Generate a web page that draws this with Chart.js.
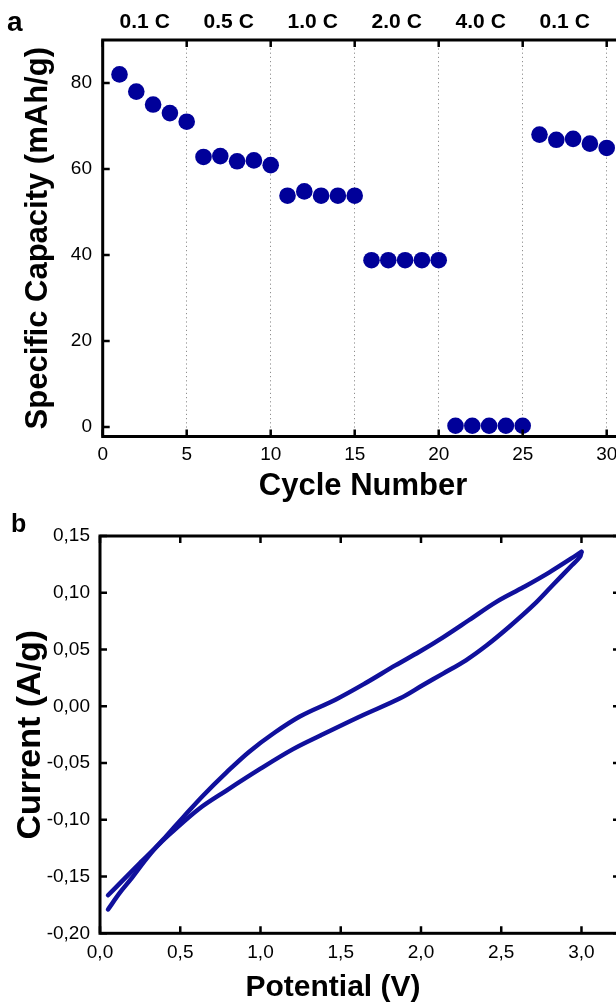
<!DOCTYPE html>
<html>
<head>
<meta charset="utf-8">
<script src="https://cdn.jsdelivr.net/npm/chart.js@4.4.0/dist/chart.umd.min.js"></script>
<style>
  html, body { margin: 0; padding: 0; background: #fff; overflow: hidden; width: 616px; height: 1006px; }
  canvas { display: block; position: absolute; left: 0; }
  #cap { top: 0; }
  #cv { top: 505px; }
</style>
</head>
<body>
<canvas id="cap" width="640" height="505"></canvas>
<canvas id="cv" width="640" height="501"></canvas>
<script>
// panel a: rate capability
const cycles = [1, 2, 3, 4, 5, 6, 7, 8, 9, 10, 11, 12, 13, 14, 15, 16, 17, 18, 19, 20, 21, 22, 23, 24, 25, 26, 27, 28, 29, 30];
const capacity = [82, 78, 75, 73, 71, 62.8, 63, 61.8, 62, 60.9, 53.8, 54.8, 53.8, 53.8, 53.8,
  38.8, 38.8, 38.8, 38.8, 38.8, 0.3, 0.3, 0.3, 0.3, 0.3, 68, 66.8, 67, 65.9, 64.9];
const rateLabels = ['0.1 C', '0.5 C', '1.0 C', '2.0 C', '4.0 C', '0.1 C'];

// panel b: cyclic voltammogram, forward and reverse sweep
const potForward = [0.05, 0.125, 0.2, 0.28, 0.35, 0.415, 0.52, 0.64, 0.79, 0.93, 1.08, 1.245, 1.47, 1.65, 1.84, 1.99, 2.14, 2.30, 2.47, 2.64, 2.80, 3.0];
const curForward = [-0.179, -0.164, -0.151, -0.136, -0.124, -0.114, -0.0975, -0.079, -0.058, -0.040, -0.024, -0.009, 0.006, 0.020, 0.036, 0.048, 0.061, 0.076, 0.092, 0.105, 0.118, 0.136];
const potReverse = [3.0, 2.99, 2.93, 2.82, 2.70, 2.55, 2.41, 2.28, 2.14, 2.01, 1.87, 1.62, 1.37, 1.20, 1.00, 0.79, 0.62, 0.44, 0.35, 0.25, 0.145, 0.05];
const curReverse = [0.136, 0.1315, 0.1227, 0.1066, 0.089, 0.070, 0.0537, 0.0405, 0.029, 0.0185, 0.007, -0.009, -0.026, -0.038, -0.055, -0.074, -0.090, -0.112, -0.124, -0.138, -0.153, -0.1665];

const FONT = '"Liberation Sans", Arial, sans-serif';
const BLUE = '#000099';
const LINE_BLUE = '#10109c';
Chart.defaults.font.family = FONT;
Chart.defaults.color = '#000';

// box frame with inward ticks on all four sides, plus panel letter / extra title
const framePlugin = {
  id: 'frame',
  afterDatasetsDraw(chart, args, opts) {
    const { ctx, chartArea: a, scales } = chart;
    const xs = scales.x, ys = scales.y;
    ctx.save();
    ctx.strokeStyle = '#000';
    ctx.lineWidth = 3;
    ctx.strokeRect(a.left, a.top, a.right - a.left, a.bottom - a.top);
    ctx.lineWidth = 2.5;
    ctx.beginPath();
    xs.ticks.forEach(t => {
      const px = xs.getPixelForValue(t.value);
      ctx.moveTo(px, a.bottom); ctx.lineTo(px, a.bottom - 7);
      ctx.moveTo(px, a.top); ctx.lineTo(px, a.top + 7);
    });
    ys.ticks.forEach(t => {
      const py = ys.getPixelForValue(t.value);
      ctx.moveTo(a.left, py); ctx.lineTo(a.left + 7, py);
      ctx.moveTo(a.right, py); ctx.lineTo(a.right - 7, py);
    });
    ctx.stroke();

    ctx.fillStyle = '#000';
    ctx.textAlign = 'left';
    ctx.textBaseline = 'alphabetic';
    ctx.font = 'bold ' + opts.letterSize + 'px ' + FONT;
    ctx.fillText(opts.letter, opts.letterX, opts.letterY);
    if (opts.xTitle) {
      ctx.font = 'bold 30px ' + FONT;
      ctx.textAlign = 'center';
      ctx.textBaseline = 'middle';
      ctx.fillText(opts.xTitle, opts.xTitleX, opts.xTitleY);
    }
    ctx.restore();
  }
};

// Panel a
new Chart(document.getElementById('cap'), {
  type: 'scatter',
  data: {
    datasets: [{
      data: cycles.map((c, i) => ({ x: c, y: capacity[i] })),
      backgroundColor: BLUE,
      borderWidth: 0,
      pointRadius: 8.3,
      pointHoverRadius: 8.3
    }]
  },
  options: {
    responsive: false,
    animation: false,
    events: [],
    layout: { padding: { right: 16.5 } },
    plugins: {
      legend: { display: false },
      tooltip: { enabled: false },
      frame: { letter: 'a', letterSize: 28, letterX: 7, letterY: 31 }
    },
    scales: {
      x: {
        type: 'linear', position: 'bottom', min: 0, max: 31,
        ticks: { stepSize: 5, includeBounds: false, padding: 7.3, maxRotation: 0, font: { size: 19 } },
        grid: { drawTicks: false, color: '#8f8f8f', lineWidth: 1 },
        border: { display: false, dash: [1.2, 3] },
        title: { display: true, text: 'Cycle Number', font: { size: 31, weight: 'bold' }, padding: { top: 0, bottom: 0.4 } },
        afterFit: s => { s.height = 68.5; }
      },
      x2: {
        type: 'linear', position: 'top', min: 0, max: 31,
        grid: { display: false, drawTicks: false },
        border: { display: false },
        ticks: {
          padding: 5.4, maxRotation: 0, font: { size: 21, weight: 'bold' },
          callback: (v, i) => rateLabels[i]
        },
        afterBuildTicks: s => { s.ticks = rateLabels.map((_, i) => ({ value: 2.5 + 5 * i })); },
        afterFit: s => { s.height = 40; }
      },
      y: {
        type: 'linear', position: 'left', min: -2.2, max: 90,
        ticks: { stepSize: 20, includeBounds: false, padding: 10.7, font: { size: 19 } },
        grid: { display: false, drawTicks: false },
        border: { display: false },
        title: { display: true, text: 'Specific Capacity (mAh/g)', font: { size: 31, weight: 'bold' }, padding: { top: 19.4, bottom: 0 } },
        afterFit: s => { s.width = 102.7; }
      }
    }
  },
  plugins: [framePlugin]
});

// Panel b
new Chart(document.getElementById('cv'), {
  type: 'scatter',
  data: {
    datasets: [
      {
        data: potForward.map((p, i) => ({ x: p, y: curForward[i] })),
        showLine: true, borderColor: LINE_BLUE, borderWidth: 4.5, tension: 0.35,
        pointRadius: 0, borderCapStyle: 'round'
      },
      {
        data: potReverse.map((p, i) => ({ x: p, y: curReverse[i] })),
        showLine: true, borderColor: LINE_BLUE, borderWidth: 4.5, tension: 0.35,
        pointRadius: 0, borderCapStyle: 'round'
      }
    ]
  },
  options: {
    responsive: false,
    animation: false,
    events: [],
    layout: { padding: { right: 20, top: 31 } },
    plugins: {
      legend: { display: false },
      tooltip: { enabled: false },
      frame: { letter: 'b', letterSize: 25, letterX: 11, letterY: 27, xTitle: 'Potential (V)', xTitleX: 333, xTitleY: 483 }
    },
    scales: {
      x: {
        type: 'linear', position: 'bottom', min: 0, max: 3.24,
        ticks: {
          stepSize: 0.5, includeBounds: false, padding: 8.3, maxRotation: 0, font: { size: 19 },
          callback: v => v.toFixed(1).replace('.', ',')
        },
        grid: { display: false, drawTicks: false },
        border: { display: false },
        afterFit: s => { s.height = 72.7; }
      },
      y: {
        type: 'linear', position: 'left', min: -0.2, max: 0.15,
        ticks: {
          stepSize: 0.05, includeBounds: false, padding: 10, font: { size: 19 },
          callback: v => (Math.abs(v) < 1e-9 ? 0 : v).toFixed(2).replace('.', ',')
        },
        grid: { display: false, drawTicks: false },
        border: { display: false },
        title: { display: true, text: 'Current (A/g)', font: { size: 34, weight: 'bold' }, padding: { top: 10.6, bottom: 0 } },
        afterFit: s => { s.width = 100; }
      }
    }
  },
  plugins: [framePlugin]
});
</script>
</body>
</html>
